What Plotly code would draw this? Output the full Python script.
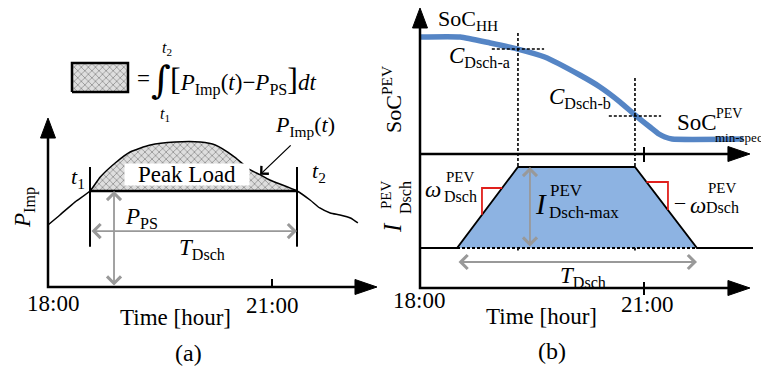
import plotly.graph_objects as go

W, H = 761, 369

# ---------------- data ----------------
# Panel (a): imported power profile, in units of P_PS
t_imp = [18.00, 18.16, 18.36, 18.5625, 18.70, 18.90, 19.10, 19.37, 19.70, 20.04,
         20.24, 20.50, 20.71, 20.84, 20.97, 21.335, 21.51, 21.64, 21.78, 21.91, 22.05, 22.15]
p_imp = [0.646, 0.75, 0.885, 1.00, 1.146, 1.292, 1.406, 1.479, 1.51, 1.51,
         1.479, 1.354, 1.219, 1.17, 1.115, 1.00, 0.906, 0.823, 0.771, 0.75, 0.719, 0.667]
t1, t2 = 18.5625, 21.335
P_PS = 1.0

# Panel (b) top: SoC of PEV fleet (%)
t_soc = [18.00, 18.54, 18.94, 19.31, 19.67, 20.14, 20.41, 20.68, 20.88, 21.08, 21.20, 21.28, 21.375, 22.33]
soc = [100, 100, 94.9, 89.7, 82.9, 67.5, 57.3, 44.4, 33.3, 23.1, 17.1, 14.5, 12.8, 12.8]
t_ca, soc_ca = 19.312, 89.7
t_cb, soc_cb = 20.879, 32.5

# Panel (b) bottom: discharge current (p.u. of I_max)
t_cur = [18.496, 19.312, 20.879, 21.71]
i_cur = [0.0, 1.0, 1.0, 0.0]
I_MAX = 1.0

tick_labels = ["18:00", "21:00"]
tick_hours = [18, 21]

# ---------------- axes geometry ----------------
K = 224 / 3  # px per hour
XA = [18 - 48 / K, 18 - 48 / K + W / K]
XB = [18 - 420 / K, 18 - 420 / K + W / K]
YP = [-(H - 287) / 96, 287 / 96]
YS = [-(H - 154) / 1.17, 154 / 1.17]
YI = [-(H - 248) / 81, 248 / 81]


def frac(v, r):
    return (v - r[0]) / (r[1] - r[0])


def unfrac(f, r):
    return r[0] + f * (r[1] - r[0])


def i_to_soc(v):
    return unfrac(frac(v, YI), YS)


def px(x):
    return x / W


def py(y):
    return 1 - y / H


SERIF = "'Liberation Serif', Tinos, 'Times New Roman', 'DejaVu Serif', serif"
BLUE_LINE = "#5585c5"
BLUE_FILL = "#8db3e2"
GREY = "#999999"
RED = "#e0201c"
HATCH = dict(shape="x", size=5, solidity=0.3, fgcolor="#444444", bgcolor="#dedede")

fig = go.Figure()

# ---- Panel (a) ----
hx = [t for t in t_imp if t1 <= t <= t2]
hy = [p for t, p in zip(t_imp, p_imp) if t1 <= t <= t2]
fig.add_trace(go.Scatter(
    x=hx + [t2, t1], y=hy + [P_PS, P_PS], xaxis="x", yaxis="y",
    fill="toself", mode="none", fillcolor="rgba(0,0,0,0)", fillpattern=HATCH, hoverinfo="skip"))
fig.add_trace(go.Scatter(x=t_imp, y=p_imp, xaxis="x", yaxis="y", mode="lines",
                         line=dict(color="black", width=1.5, shape="spline", smoothing=0.6),
                         hoverinfo="skip"))
fig.add_trace(go.Scatter(x=[t1, t2], y=[P_PS, P_PS], xaxis="x", yaxis="y", mode="lines",
                         line=dict(color="black", width=2.5), hoverinfo="skip"))
for tt in (t1, t2):
    fig.add_trace(go.Scatter(x=[tt, tt], y=[1.25, 0.42], xaxis="x", yaxis="y", mode="lines",
                             line=dict(color="black", width=2), hoverinfo="skip"))

# legend swatch (hatched box)
sx0, sx1 = unfrac(px(72), XA), unfrac(px(128), XA)
sy0, sy1 = unfrac(py(92), YP), unfrac(py(63), YP)
fig.add_trace(go.Scatter(
    x=[sx0, sx1, sx1, sx0, sx0], y=[sy0, sy0, sy1, sy1, sy0], xaxis="x", yaxis="y",
    fill="toself", mode="lines", line=dict(color="black", width=2.5), fillcolor="rgba(0,0,0,0)",
    fillpattern=HATCH, hoverinfo="skip"))

# ---- Panel (b) ----
fig.add_trace(go.Scatter(x=t_cur + [t_cur[0]], y=i_cur + [i_cur[0]], xaxis="x2", yaxis="y3",
                         fill="toself", mode="none", fillcolor=BLUE_FILL, hoverinfo="skip"))
fig.add_trace(go.Scatter(x=[18.0] + t_cur + [22.46], y=[0] + i_cur + [0], xaxis="x2", yaxis="y3",
                         mode="lines", line=dict(color="black", width=1.8), hoverinfo="skip"))
fig.add_trace(go.Scatter(x=[t_cur[0], t_cur[-1]], y=[0, 0], xaxis="x2", yaxis="y3",
                         mode="lines", line=dict(color="black", width=1.8, dash="3px,2px"),
                         hoverinfo="skip"))
fig.add_trace(go.Scatter(x=t_soc, y=soc, xaxis="x2", yaxis="y2", mode="lines",
                         line=dict(color=BLUE_LINE, width=5.5, shape="spline", smoothing=0.5),
                         hoverinfo="skip"))
for tt, top in ((t_ca, 103.4), (t_cb, 65.0)):
    fig.add_trace(go.Scatter(x=[tt, tt], y=[top, i_to_soc(-0.03)], xaxis="x2", yaxis="y2",
                             mode="lines", line=dict(color="black", width=1.6, dash="3px,2px"),
                             hoverinfo="skip"))
for tt, lv in ((t_ca, soc_ca), (t_cb, soc_cb)):
    fig.add_trace(go.Scatter(x=[tt - 0.35, tt + 0.35], y=[lv, lv], xaxis="x2", yaxis="y2",
                             mode="lines", line=dict(color="black", width=1.6, dash="3px,2px"),
                             hoverinfo="skip"))

# red slope markers
up_dt = (t_cur[1] - t_cur[0]) / I_MAX
dn_dt = (t_cur[3] - t_cur[2]) / I_MAX
cl_t, cl_i = 18.83, 0.741
cr_t, cr_i = 21.321, 0.815
fig.add_trace(go.Scatter(
    x=[t_cur[0] + cl_i * up_dt, cl_t, cl_t], y=[cl_i, cl_i, (cl_t - t_cur[0]) / up_dt],
    xaxis="x2", yaxis="y3", mode="lines", line=dict(color=RED, width=1.8), hoverinfo="skip"))
fig.add_trace(go.Scatter(
    x=[t_cur[2] + (1 - cr_i) * dn_dt, cr_t, cr_t], y=[cr_i, cr_i, 1 - (cr_t - t_cur[2]) / dn_dt],
    xaxis="x2", yaxis="y3", mode="lines", line=dict(color=RED, width=1.8), hoverinfo="skip"))

# ---- axis lines ----
TA_END = 22.406
TB_END = 22.419
I_AX = -0.494
P_TOP = 1.76
SOC_TOP = 124.8
fig.add_trace(go.Scatter(x=[18, 18, TA_END - 0.25], y=[P_TOP - 0.2, 0, 0], xaxis="x", yaxis="y",
                         mode="lines", line=dict(color="black", width=2.5), hoverinfo="skip"))
fig.add_trace(go.Scatter(x=[18, 18, TB_END - 0.25], y=[SOC_TOP - 15, i_to_soc(I_AX), i_to_soc(I_AX)],
                         xaxis="x2", yaxis="y2", mode="lines", line=dict(color="black", width=2.5),
                         hoverinfo="skip"))
fig.add_trace(go.Scatter(x=[18, TB_END - 0.25], y=[0, 0], xaxis="x2", yaxis="y2",
                         mode="lines", line=dict(color="black", width=2.5), hoverinfo="skip"))
fig.add_trace(go.Scatter(x=[21, 21], y=[0, 0.083], xaxis="x", yaxis="y", mode="lines",
                         line=dict(color="black", width=2), hoverinfo="skip"))
fig.add_trace(go.Scatter(x=[21, 21], y=[6, -6.8], xaxis="x2", yaxis="y2", mode="lines",
                         line=dict(color="black", width=2), hoverinfo="skip"))
fig.add_trace(go.Scatter(x=[21, 21], y=[-0.42, -0.58], xaxis="x2", yaxis="y3", mode="lines",
                         line=dict(color="black", width=2), hoverinfo="skip"))

shapes = []


def head(tip_x, tip_y, direction, L=22, hw=7.5):
    if direction == "right":
        pts = [(tip_x, tip_y), (tip_x - L, tip_y - hw), (tip_x - L, tip_y + hw)]
    else:
        pts = [(tip_x, tip_y), (tip_x - hw, tip_y + L), (tip_x + hw, tip_y + L)]
    path = "M " + " L ".join(f"{px(a):.5f},{py(b):.5f}" for a, b in pts) + " Z"
    shapes.append(dict(type="path", path=path, xref="paper", yref="paper",
                       fillcolor="black", line=dict(color="black", width=1)))


def to_px_x(t, r):
    return frac(t, r) * W


def to_px_y(v, r):
    return (1 - frac(v, r)) * H


head(to_px_x(18, XA), to_px_y(P_TOP, YP), "up", L=20, hw=7.5)
head(to_px_x(TA_END, XA), to_px_y(0, YP), "right")
head(to_px_x(18, XB), to_px_y(SOC_TOP, YS), "up", L=20, hw=7.5)
head(to_px_x(TB_END, XB), to_px_y(0, YS), "right")
head(to_px_x(TB_END, XB), to_px_y(I_AX, YI), "right")

annotations = []


def garrow(x0, y0, x1, y1, xr, yr):
    annotations.append(dict(x=x1, y=y1, ax=x0, ay=y0, xref=xr, yref=yr, axref=xr, ayref=yr,
                            text="", showarrow=True, arrowhead=4, arrowside="end+start",
                            arrowwidth=1.8, arrowsize=1.5, arrowcolor=GREY, standoff=0,
                            startstandoff=0))


garrow(t1, 0.583, t2, 0.583, "x", "y")
garrow(18.884, 0.0, 18.884, P_PS, "x", "y")
garrow(19.473, 0.0, 19.473, I_MAX, "x2", "y3")
garrow(t_cur[0], -0.173, t_cur[-1], -0.173, "x2", "y3")

annotations.append(dict(x=20.84, y=1.17, ax=21.27, ay=1.49, xref="x", yref="y", axref="x", ayref="y",
                        text="", showarrow=True, arrowhead=4, arrowwidth=1.3, arrowsize=1.6,
                        arrowcolor="black", standoff=0))


def label(x, y, text, size=23, xanchor="center", angle=0, family=SERIF, **kw):
    d = dict(x=px(x), y=py(y), xref="paper", yref="paper", text=text, showarrow=False,
             font=dict(family=family, size=size, color="black"), xanchor=xanchor,
             yanchor="middle", textangle=angle, borderpad=0)
    d.update(kw)
    annotations.append(d)


# panel (a) texts
label(143, 79, "=", 23)
label(161, 80, "∫", 38, family="'DejaVu Serif', serif")
label(167, 48, "<i>t</i><sub>2</sub>", 16)
label(165, 114, "<i>t</i><sub>1</sub>", 16)
label(169, 80, '<span style="font-size:32px">[</span><i>P</i><sub>Imp</sub>(<i>t</i>)−<i>P</i>'
               '<sub>PS</sub><span style="font-size:32px">]</span><i>dt</i>', 23, xanchor="left")
label(187, 174, "Peak Load", 23, bgcolor="white", width=124, height=21)
label(305, 126, "<i>P</i><sub>Imp</sub>(<i>t</i>)", 22)
label(78, 178, "<i>t</i><sub>1</sub>", 22)
label(319, 172, "<i>t</i><sub>2</sub>", 22)
label(141, 218, "<i>P</i><sub>PS</sub>", 23)
label(202, 249, "<i>T</i><sub>Dsch</sub>", 23)
label(25, 208, "<i>P</i><sub>Imp</sub>", 23, angle=-90)
label(53, 303, tick_labels[0], 23)
label(272, 305, tick_labels[1], 23)
label(175, 317, "Time [hour]", 23)
label(188, 353, "(a)", 24)

# panel (b) texts
label(437, 20, "SoC<sub>HH</sub>", 22, xanchor="left")
label(448, 57, "<i>C</i><sub>Dsch-a</sub>", 23, xanchor="left")
label(548, 98, "<i>C</i><sub>Dsch-b</sub>", 23, xanchor="left")
label(676, 123, "SoC", 23, xanchor="left")
label(715, 113, "PEV", 14, xanchor="left")
label(714, 137, "min-spec", 13, xanchor="left")
label(392, 100, "SoC<sup>PEV</sup>", 22, angle=-90)
label(392, 228, "<i>I</i>", 25, angle=-90)
label(386, 195, "PEV", 15, angle=-90)
label(405, 198, "Dsch", 16, angle=-90)
label(433, 189, "<i>ω</i>", 23)
label(445, 177, "PEV", 15, xanchor="left")
label(443, 196, "Dsch", 16, xanchor="left")
label(680, 202, "–", 20)
label(698, 205, "<i>ω</i>", 23)
label(707, 188, "PEV", 15, xanchor="left")
label(705, 207, "Dsch", 16, xanchor="left")
label(541, 204, "<i>I</i>", 29)
label(549, 190, "PEV", 17, xanchor="left")
label(548, 212, "Dsch-max", 17, xanchor="left")
label(583, 277, "<i>T</i><sub>Dsch</sub>", 23)
label(419, 300, tick_labels[0], 23)
label(647, 304, tick_labels[1], 23)
label(541, 316, "Time [hour]", 23)
label(552, 351, "(b)", 24)

ax_common = dict(visible=False, fixedrange=True)
fig.update_layout(
    width=W, height=H, margin=dict(l=0, r=0, t=0, b=0),
    paper_bgcolor="white", plot_bgcolor="white", showlegend=False,
    font=dict(family=SERIF, size=23, color="black"),
    xaxis=dict(range=XA, domain=[0, 1], **ax_common),
    xaxis2=dict(range=XB, domain=[0, 1], overlaying="x", **ax_common),
    yaxis=dict(range=YP, domain=[0, 1], **ax_common),
    yaxis2=dict(range=YS, domain=[0, 1], overlaying="y", **ax_common),
    yaxis3=dict(range=YI, domain=[0, 1], overlaying="y", **ax_common),
    shapes=shapes, annotations=annotations,
)

fig.write_html("out.html", config={"displayModeBar": False},
               post_script="document.body.style.margin='0px';document.body.style.overflow='hidden';")
